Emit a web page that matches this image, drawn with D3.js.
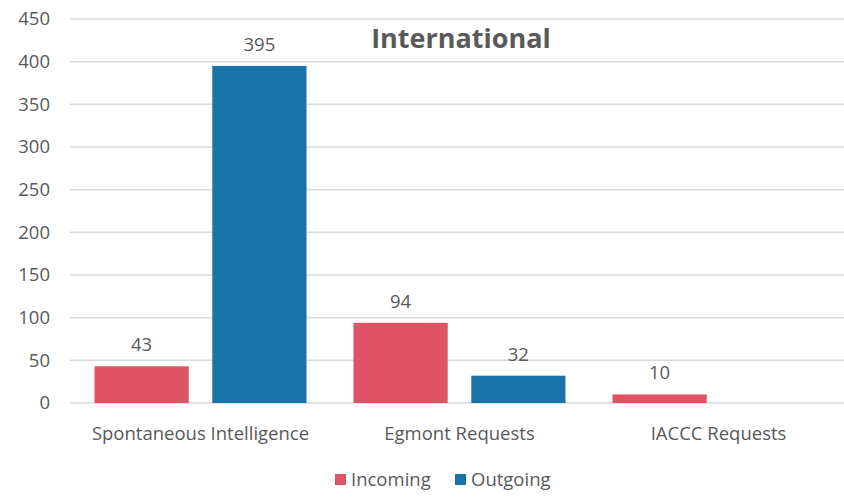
<!DOCTYPE html>
<meta charset="utf-8">
<style>
body { margin: 0; background: #fff; }
text { font-family: "Open Sans", Lato, sans-serif; fill: #595959; }
.grid line { stroke: #d9d9d9; stroke-width: 1.5px; }
</style>
<svg width="844" height="497"></svg>
<script src="https://cdn.jsdelivr.net/npm/d3@7/dist/d3.min.js"></script>
<script>

var categories = ["Spontaneous Intelligence", "Egmont Requests", "IACCC Requests"];
var seriesNames = ["Incoming", "Outgoing"];
var incoming = [43, 94, 10];
var outgoing = [395, 32, 0];
var yTicks = [0, 50, 100, 150, 200, 250, 300, 350, 400, 450];
var colors = ["#e05265", "#1a73a8"];

var svg = d3.select("svg"),
    margin = {top: 19, right: -4, bottom: 94, left: 71},
    width = 844 - margin.left - margin.right,
    height = 497 - margin.top - margin.bottom,
    g = svg.append("g").attr("transform", "translate(" + margin.left + "," + margin.top + ")");

var x0 = d3.scaleBand().domain(categories).range([0, width]).paddingInner(0).paddingOuter(0);
var x1 = d3.scaleBand().domain(seriesNames).range([23.5, x0.bandwidth() - 23.5]).paddingInner(0.2);
var y = d3.scaleLinear().domain([0, 450]).range([height, 0]);

// gridlines
g.append("g").attr("class", "grid")
  .selectAll("line").data(yTicks).enter().append("line")
    .attr("x1", -1).attr("x2", width)
    .attr("y1", function(d) { return y(d); })
    .attr("y2", function(d) { return y(d); });

// y tick labels
g.append("g").selectAll("text").data(yTicks).enter().append("text")
    .attr("x", -21)
    .attr("y", function(d) { return y(d); })
    .attr("dy", "0.35em")
    .attr("text-anchor", "end")
    .style("font-size", "18.5px")
    .text(function(d) { return d; });

var rows = categories.map(function(c, i) {
  return {cat: c, values: [{s: "Incoming", v: incoming[i]}, {s: "Outgoing", v: outgoing[i]}]};
});

var group = g.selectAll(".group").data(rows).enter().append("g")
    .attr("transform", function(d) { return "translate(" + x0(d.cat) + ",0)"; });

var bars = group.selectAll("g").data(function(d) { return d.values.filter(function(e) { return e.v > 0; }); })
  .enter().append("g");

bars.append("rect")
    .attr("x", function(d) { return x1(d.s); })
    .attr("width", x1.bandwidth())
    .attr("y", function(d) { return y(d.v); })
    .attr("height", function(d) { return y(0) - y(d.v); })
    .attr("fill", function(d) { return colors[seriesNames.indexOf(d.s)]; });

bars.append("text")
    .attr("x", function(d) { return x1(d.s) + x1.bandwidth() / 2; })
    .attr("y", function(d) { return y(d.v) - 15; })
    .attr("text-anchor", "middle")
    .style("font-size", "18.5px")
    .text(function(d) { return d.v; });

// category labels
g.append("g").selectAll("text").data(categories).enter().append("text")
    .attr("x", function(d) { return x0(d) + x0.bandwidth() / 2; })
    .attr("y", height + 37)
    .attr("text-anchor", "middle")
    .style("font-size", "18.5px")
    .text(function(d) { return d; });

// title
svg.append("text")
    .attr("x", 461)
    .attr("y", 48)
    .attr("text-anchor", "middle")
    .style("font-size", "27px")
    .style("font-weight", "bold")
    .text("International");

// legend
var legend = svg.append("g").selectAll("g").data(seriesNames).enter().append("g")
    .attr("transform", function(d, i) { return "translate(" + (335 + i * 120) + ",474)"; });
legend.append("rect").attr("width", 11).attr("height", 11)
    .attr("fill", function(d, i) { return colors[i]; });
legend.append("text").attr("x", 16).attr("y", 5.5).attr("dy", "0.35em")
    .style("font-size", "18.5px")
    .text(function(d) { return d; });

</script>
